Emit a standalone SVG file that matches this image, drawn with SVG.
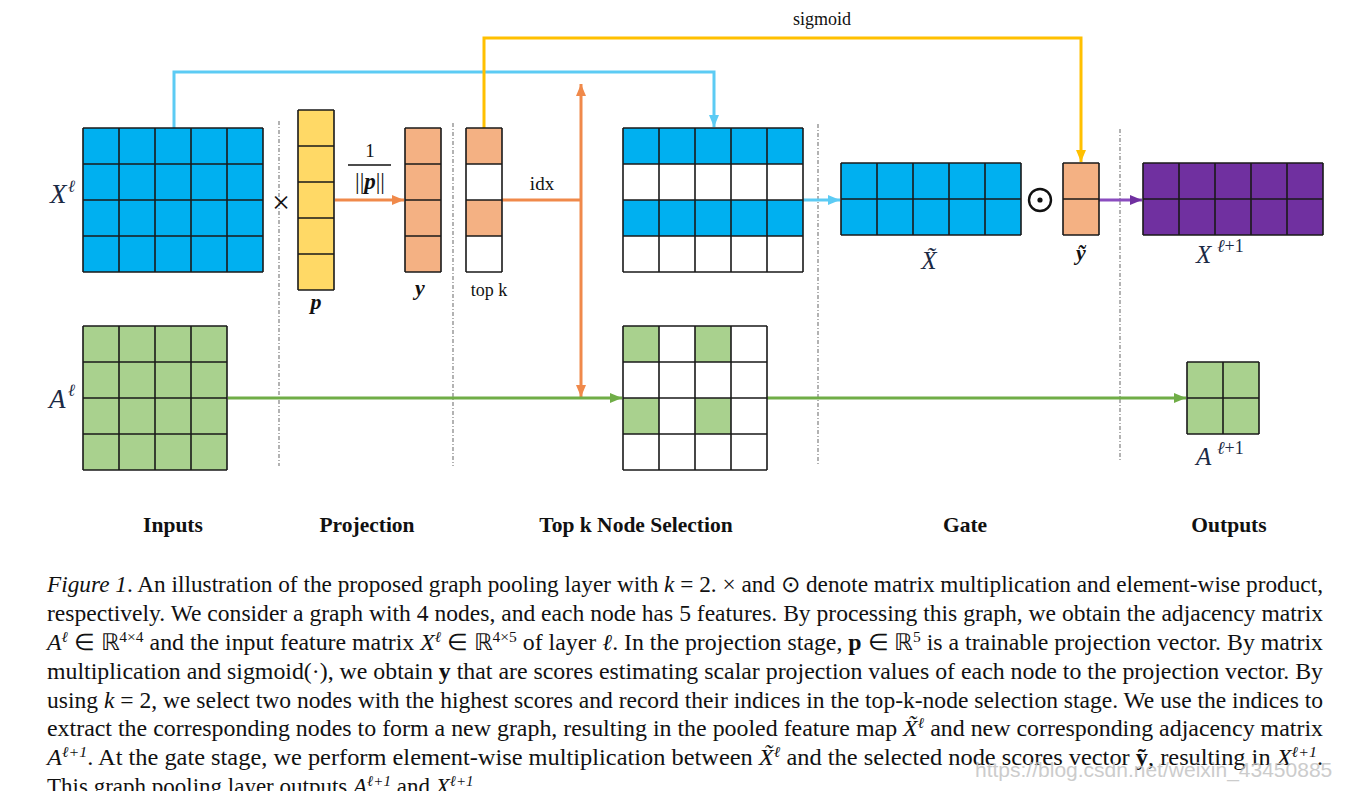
<svg xmlns="http://www.w3.org/2000/svg" width="1367" height="808" viewBox="0 0 1367 808">
<style>
.grid{fill:none;stroke:#1a1a1a;stroke-width:1.6}
.blue{fill:#00B0F0}.yel{fill:#FFD966}.org{fill:#F4B183}.grn{fill:#A9D18E}.pur{fill:#7030A0}
.dash{stroke:#8a8a8a;stroke-width:1.3;stroke-dasharray:4 2 1 2;fill:none}
.c-cyan{stroke:#5CCBF4;stroke-width:3;fill:none}
.c-yel{stroke:#FFC000;stroke-width:3;fill:none}
.c-org{stroke:#F0894A;stroke-width:3;fill:none}
.c-grn{stroke:#70AD47;stroke-width:3;fill:none}
.c-pur{stroke:#8A4CBF;stroke-width:3;fill:none}
.lbl{font-family:"Liberation Serif",serif;fill:#111}
.math{font-family:"Liberation Serif",serif;font-style:italic;fill:#1b2a45}
.bmath{font-family:"Liberation Serif",serif;font-style:italic;font-weight:bold;fill:#111}
.stage{font-family:"Liberation Serif",serif;font-weight:bold;font-size:21.5px;fill:#111;text-anchor:middle}
.cap{font-family:"Liberation Serif",serif;font-size:23px;fill:#111}
.i{font-style:italic}
</style>
<defs>
<marker id="aCyan" viewBox="0 0 12 10" refX="12" refY="5" markerWidth="12" markerHeight="10" markerUnits="userSpaceOnUse" orient="auto"><path d="M0,0 L12,5 L0,10 z" fill="#5CCBF4"/></marker>
<marker id="aYel" viewBox="0 0 12 10" refX="12" refY="5" markerWidth="12" markerHeight="10" markerUnits="userSpaceOnUse" orient="auto"><path d="M0,0 L12,5 L0,10 z" fill="#FFC000"/></marker>
<marker id="aOrg" viewBox="0 0 12 10" refX="12" refY="5" markerWidth="12" markerHeight="10" markerUnits="userSpaceOnUse" orient="auto"><path d="M0,0 L12,5 L0,10 z" fill="#F0894A"/></marker>
<marker id="aOrgS" viewBox="0 0 12 10" refX="12" refY="5" markerWidth="12" markerHeight="10" markerUnits="userSpaceOnUse" orient="auto-start-reverse"><path d="M0,0 L12,5 L0,10 z" fill="#F0894A"/></marker>
<marker id="aGrn" viewBox="0 0 12 10" refX="12" refY="5" markerWidth="12" markerHeight="10" markerUnits="userSpaceOnUse" orient="auto"><path d="M0,0 L12,5 L0,10 z" fill="#70AD47"/></marker>
<marker id="aPur" viewBox="0 0 12 10" refX="12" refY="5" markerWidth="12" markerHeight="10" markerUnits="userSpaceOnUse" orient="auto"><path d="M0,0 L12,5 L0,10 z" fill="#7030A0"/></marker>
<clipPath id="cut"><rect x="0" y="0" width="1367" height="791"/></clipPath>
</defs>
<rect width="1367" height="808" fill="#fff"/>

<g id="separators">
<line class="dash" x1="279" y1="121" x2="279" y2="466"/>
<line class="dash" x1="453" y1="123" x2="453" y2="466"/>
<line class="dash" x1="818" y1="124" x2="818" y2="466"/>
<line class="dash" x1="1120" y1="129" x2="1120" y2="462"/>
</g>

<g id="connectors">
<path class="c-cyan" d="M174,128 V72 H714 V127" marker-end="url(#aCyan)"/>
<path class="c-yel" d="M484,128 V38 H1081 V162" marker-end="url(#aYel)"/>
<path class="c-org" d="M335,200 H404" marker-end="url(#aOrg)"/>
<path class="c-org" d="M502,200 H581"/>
<path class="c-org" d="M581,84 V397" marker-start="url(#aOrgS)" marker-end="url(#aOrg)"/>
<path class="c-grn" d="M228,398 H622" marker-end="url(#aGrn)"/>
<path class="c-grn" d="M767,398 H1186" marker-end="url(#aGrn)"/>
<path class="c-cyan" d="M803,200 H840" marker-end="url(#aCyan)"/>
<path class="c-pur" d="M1099,200 H1142" marker-end="url(#aPur)"/>
<text class="lbl" x="822" y="25" font-size="18" text-anchor="middle">sigmoid</text>
<text class="lbl" x="542" y="190" font-size="19" text-anchor="middle">idx</text>
</g>

<g id="X-input">
<rect class="blue" x="83" y="128" width="180" height="144"/>
<path class="grid" d="M83,128V272M119,128V272M155,128V272M191,128V272M227,128V272M263,128V272M83,128H263M83,164H263M83,200H263M83,236H263M83,272H263"/>
<text class="math" x="50" y="203" font-size="27">X</text>
<text class="math" x="68" y="192" font-size="17">ℓ</text>
</g>

<g id="A-input">
<rect class="grn" x="83" y="326" width="144" height="144"/>
<path class="grid" d="M83,326V470M119,326V470M155,326V470M191,326V470M227,326V470M83,326H227M83,362H227M83,398H227M83,434H227M83,470H227"/>
<text class="math" x="49" y="408" font-size="27">A</text>
<text class="math" x="68" y="396" font-size="17">ℓ</text>
</g>

<g id="times">
<text class="lbl" x="281" y="213" font-size="32" text-anchor="middle">×</text>
</g>

<g id="p-vector">
<rect class="yel" x="298" y="110" width="36" height="180"/>
<path class="grid" d="M298,110V290M334,110V290M298,110H334M298,146H334M298,182H334M298,218H334M298,254H334M298,290H334"/>
<text class="bmath" x="316" y="309" font-size="22" text-anchor="middle">p</text>
</g>

<g id="norm">
<text class="lbl" x="370" y="157" font-size="19" text-anchor="middle">1</text>
<line x1="348" y1="165" x2="391" y2="165" stroke="#111" stroke-width="1.6"/>
<text class="lbl" x="370" y="189" font-size="23" text-anchor="middle">||<tspan class="bmath">p</tspan>||</text>
</g>

<g id="y-vector">
<rect class="org" x="405" y="128" width="36" height="144"/>
<path class="grid" d="M405,128V272M441,128V272M405,128H441M405,164H441M405,200H441M405,236H441M405,272H441"/>
<text class="bmath" x="420" y="295" font-size="22" text-anchor="middle">y</text>
</g>

<g id="topk">
<rect class="org" x="466" y="128" width="36" height="36"/>
<rect class="org" x="466" y="200" width="36" height="36"/>
<path class="grid" d="M466,128V272M502,128V272M466,128H502M466,164H502M466,200H502M466,236H502M466,272H502"/>
<text class="lbl" x="489" y="296" font-size="18" text-anchor="middle">top k</text>
</g>

<g id="X-selected">
<rect class="blue" x="623" y="128" width="180" height="36"/>
<rect class="blue" x="623" y="200" width="180" height="36"/>
<path class="grid" d="M623,128V272M659,128V272M695,128V272M731,128V272M767,128V272M803,128V272M623,128H803M623,164H803M623,200H803M623,236H803M623,272H803"/>
</g>

<g id="A-selected">
<rect class="grn" x="623" y="326" width="36" height="36"/>
<rect class="grn" x="695" y="326" width="36" height="36"/>
<rect class="grn" x="623" y="398" width="36" height="36"/>
<rect class="grn" x="695" y="398" width="36" height="36"/>
<path class="grid" d="M623,326V470M659,326V470M695,326V470M731,326V470M767,326V470M623,326H767M623,362H767M623,398H767M623,434H767M623,470H767"/>
</g>

<g id="X-tilde">
<rect class="blue" x="841" y="163" width="180" height="72"/>
<path class="grid" d="M841,163V235M877,163V235M913,163V235M949,163V235M985,163V235M1021,163V235M841,163H1021M841,199H1021M841,235H1021"/>
<text class="math" x="929" y="269" font-size="25" text-anchor="middle">X̃</text>
</g>

<g id="odot">
<circle cx="1040" cy="200" r="11" fill="none" stroke="#111" stroke-width="2.4"/>
<circle cx="1040" cy="200" r="2.6" fill="#111"/>
</g>

<g id="y-tilde">
<rect class="org" x="1063" y="163" width="36" height="72"/>
<path class="grid" d="M1063,163V235M1099,163V235M1063,163H1099M1063,199H1099M1063,235H1099"/>
<text class="bmath" x="1081" y="260" font-size="22" text-anchor="middle">ỹ</text>
</g>

<g id="X-out">
<rect class="pur" x="1143" y="163" width="180" height="72"/>
<path class="grid" d="M1143,163V235M1179,163V235M1215,163V235M1251,163V235M1287,163V235M1323,163V235M1143,163H1323M1143,199H1323M1143,235H1323"/>
<text class="math" x="1196" y="263" font-size="25">X</text>
<text class="math" x="1217" y="252" font-size="18">ℓ<tspan font-style="normal">+1</tspan></text>
</g>

<g id="A-out">
<rect class="grn" x="1187" y="362" width="72" height="72"/>
<path class="grid" d="M1187,362V434M1223,362V434M1259,362V434M1187,362H1259M1187,398H1259M1187,434H1259"/>
<text class="math" x="1196" y="465" font-size="25">A</text>
<text class="math" x="1217" y="454" font-size="18">ℓ<tspan font-style="normal">+1</tspan></text>
</g>

<g id="stages">
<text class="stage" x="173" y="532">Inputs</text>
<text class="stage" x="367" y="532">Projection</text>
<text class="stage" x="636" y="532">Top k Node Selection</text>
<text class="stage" x="965" y="532">Gate</text>
<text class="stage" x="1229" y="532">Outputs</text>
</g>

<g id="caption" class="cap">
<text x="47" y="592" textLength="1276" lengthAdjust="spacingAndGlyphs"><tspan class="i">Figure 1</tspan>. An illustration of the proposed graph pooling layer with <tspan class="i">k</tspan> = 2. × and ⊙ denote matrix multiplication and element-wise product,</text>
<text x="47" y="621" textLength="1276" lengthAdjust="spacingAndGlyphs">respectively. We consider a graph with 4 nodes, and each node has 5 features. By processing this graph, we obtain the adjacency matrix</text>
<text x="47" y="650" textLength="1276" lengthAdjust="spacingAndGlyphs"><tspan class="i">A</tspan><tspan dy="-8" font-size="15" class="i">ℓ</tspan><tspan dy="8"> ∈ ℝ</tspan><tspan dy="-8" font-size="15">4×4</tspan><tspan dy="8"> and the input feature matrix </tspan><tspan class="i">X</tspan><tspan dy="-8" font-size="15" class="i">ℓ</tspan><tspan dy="8"> ∈ ℝ</tspan><tspan dy="-8" font-size="15">4×5</tspan><tspan dy="8"> of layer </tspan><tspan class="i">ℓ</tspan>. In the projection stage, <tspan font-weight="bold">p</tspan> ∈ ℝ<tspan dy="-8" font-size="15">5</tspan><tspan dy="8"> is a trainable projection vector. By matrix</tspan></text>
<text x="47" y="679" textLength="1276" lengthAdjust="spacingAndGlyphs">multiplication and sigmoid(·), we obtain <tspan font-weight="bold">y</tspan> that are scores estimating scalar projection values of each node to the projection vector. By</text>
<text x="47" y="708" textLength="1276" lengthAdjust="spacingAndGlyphs">using <tspan class="i">k</tspan> = 2, we select two nodes with the highest scores and record their indices in the top-k-node selection stage. We use the indices to</text>
<text x="47" y="736" textLength="1276" lengthAdjust="spacingAndGlyphs">extract the corresponding nodes to form a new graph, resulting in the pooled feature map <tspan class="i">X̃</tspan><tspan dy="-8" font-size="15" class="i">ℓ</tspan><tspan dy="8"> and new corresponding adjacency matrix</tspan></text>
<text x="47" y="765" textLength="1276" lengthAdjust="spacingAndGlyphs"><tspan class="i">A</tspan><tspan dy="-8" font-size="15" class="i">ℓ+1</tspan><tspan dy="8">. At the gate stage, we perform element-wise multiplication between </tspan><tspan class="i">X̃</tspan><tspan dy="-8" font-size="15" class="i">ℓ</tspan><tspan dy="8"> and the selected node scores vector </tspan><tspan font-weight="bold">ỹ</tspan>, resulting in <tspan class="i">X</tspan><tspan dy="-8" font-size="15" class="i">ℓ+1</tspan><tspan dy="8">.</tspan></text>
<text x="47" y="794" clip-path="url(#cut)">This graph pooling layer outputs <tspan class="i">A</tspan><tspan dy="-8" font-size="15" class="i">ℓ+1</tspan><tspan dy="8"> and </tspan><tspan class="i">X</tspan><tspan dy="-8" font-size="15" class="i">ℓ+1</tspan><tspan dy="8">.</tspan></text>
</g>

<g id="watermark">
<text x="975" y="777" font-family="Liberation Sans, sans-serif" font-size="21" fill="#c4c4c4" opacity="0.85">https://blog.csdn.net/weixin_43450885</text>
</g>
</svg>
